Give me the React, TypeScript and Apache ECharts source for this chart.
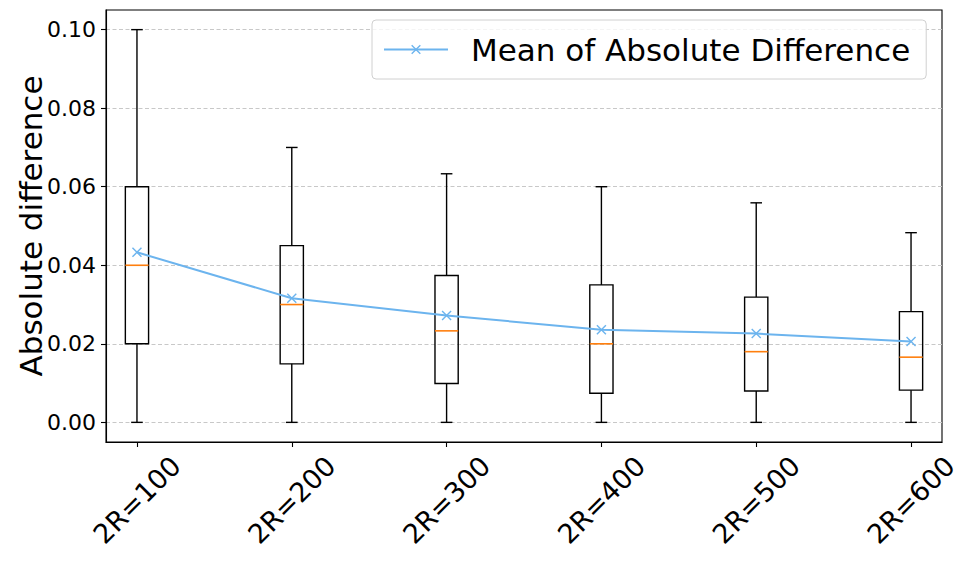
import React, { useEffect, useRef } from "react";
import * as echarts from "echarts";

const categories = ["2R=100", "2R=200", "2R=300", "2R=400", "2R=500", "2R=600"];
const positions = [1, 2, 3, 4, 5, 6];
const whiskerLow = [0, 0, 0, 0, 0, 0];
const q1 = [0.02, 0.0149, 0.0099, 0.0074, 0.008, 0.0082];
const median = [0.04, 0.03, 0.0233, 0.02, 0.018, 0.0166];
const q3 = [0.06, 0.045, 0.0374, 0.035, 0.0319, 0.0282];
const whiskerHigh = [0.1, 0.07, 0.0633, 0.06, 0.0559, 0.0483];
const means = [0.0433, 0.0316, 0.0272, 0.0236, 0.0226, 0.0206];
const yTicks = [0, 0.02, 0.04, 0.06, 0.08, 0.1];

const FONT = "DejaVu Sans";
const BOX_WIDTH = 0.15;
const X_PATH = "path://M1,0L5,4L9,0L10,1L6,5L10,9L9,10L5,6L1,10L0,9L4,5L0,1Z";

export default function App() {
  const ref = useRef<HTMLDivElement>(null);
  useEffect(() => {
    if (!ref.current) return;
    const chart = echarts.init(ref.current, null, { renderer: "svg" });
    const boxData = positions.map((p, i) => [p, whiskerLow[i], q1[i], median[i], q3[i], whiskerHigh[i]]);
    const meanData = positions.map((p, i) => [p, means[i]]);
    const option: any = {
      animation: false,
      backgroundColor: "#ffffff",
      grid: {
        left: 106,
        right: 30,
        top: 10,
        bottom: 122,
        show: true,
        borderColor: "#000000",
        borderWidth: 1.1,
        backgroundColor: "transparent",
      },
      legend: {
        left: 372,
        top: 20,
        padding: [14, 16, 14, 11],
        itemWidth: 64,
        itemHeight: 12,
        borderColor: "#d0d0d0",
        borderWidth: 1,
        borderRadius: 4,
        backgroundColor: "rgba(255,255,255,0.8)",
        textStyle: { fontFamily: FONT, fontSize: 31, color: "#000", padding: [0, 0, 0, 18] },
        data: ["Mean of Absolute Difference"],
      },
      xAxis: {
        type: "value",
        min: 0.8,
        max: 6.2,
        axisLine: { show: true, onZero: false, lineStyle: { color: "#000", width: 1.1 } },
        axisTick: { show: true, length: 5, customValues: positions, lineStyle: { color: "#000", width: 1.1 } },
        splitLine: { show: false },
        axisLabel: {
          customValues: positions,
          formatter: (v: number) => categories[Math.round(v) - 1],
          rotate: 45,
          align: "center",
          verticalAlign: "middle",
          margin: 58,
          fontFamily: FONT,
          fontSize: 27,
          color: "#000",
        },
      },
      yAxis: {
        type: "value",
        min: -0.005,
        max: 0.105,
        name: "Absolute difference",
        nameLocation: "middle",
        nameGap: 60,
        nameMoveOverlap: false,
        nameTextStyle: { fontFamily: FONT, fontSize: 31, color: "#000" },
        axisLine: { show: true, onZero: false, lineStyle: { color: "#000", width: 1.1 } },
        axisTick: { show: true, length: 5, customValues: yTicks, lineStyle: { color: "#000", width: 1.1 } },
        axisLabel: {
          customValues: yTicks,
          formatter: (v: number) => v.toFixed(2),
          margin: 10,
          fontFamily: FONT,
          fontSize: 22,
          color: "#000",
        },
        splitLine: { show: true, lineStyle: { color: "#c8c8c8", width: 1, type: [4, 2.5] } },
      },
      series: [
        {
          type: "custom",
          name: "box",
          z: 2,
          data: boxData,
          encode: { x: 0, y: [1, 2, 3, 4, 5] },
          renderItem: (params: any, api: any) => {
            const x = api.value(0);
            const vMin = api.coord([x, api.value(1)]);
            const vQ1 = api.coord([x, api.value(2)]);
            const vMed = api.coord([x, api.value(3)]);
            const vQ3 = api.coord([x, api.value(4)]);
            const vMax = api.coord([x, api.value(5)]);
            const w = api.size([BOX_WIDTH, 0])[0];
            const cx = vMin[0];
            const stroke = { stroke: "#000", lineWidth: 1.4 };
            return {
              type: "group",
              children: [
                { type: "line", shape: { x1: cx, y1: vMin[1], x2: cx, y2: vQ1[1] }, style: stroke },
                { type: "line", shape: { x1: cx, y1: vQ3[1], x2: cx, y2: vMax[1] }, style: stroke },
                { type: "line", shape: { x1: cx - w / 4, y1: vMin[1], x2: cx + w / 4, y2: vMin[1] }, style: stroke },
                { type: "line", shape: { x1: cx - w / 4, y1: vMax[1], x2: cx + w / 4, y2: vMax[1] }, style: stroke },
                {
                  type: "rect",
                  shape: { x: cx - w / 2, y: vQ3[1], width: w, height: vQ1[1] - vQ3[1] },
                  style: { fill: "none", stroke: "#000", lineWidth: 1.4 },
                },
                {
                  type: "line",
                  shape: { x1: cx - w / 2, y1: vMed[1], x2: cx + w / 2, y2: vMed[1] },
                  style: { stroke: "#ff7f0e", lineWidth: 1.6 },
                },
              ],
            };
          },
        },
        {
          type: "line",
          name: "Mean of Absolute Difference",
          z: 3,
          data: meanData,
          symbol: X_PATH,
          symbolSize: 10,
          showSymbol: true,
          color: "#6cb4ee",
          itemStyle: { color: "#6cb4ee" },
          lineStyle: { color: "#6cb4ee", width: 2 },
        },
      ],
    };
    chart.setOption(option);
    return () => chart.dispose();
  }, []);
  return <div ref={ref} style={{ position: "fixed", left: 0, top: 0, width: 972, height: 564 }} />;
}
